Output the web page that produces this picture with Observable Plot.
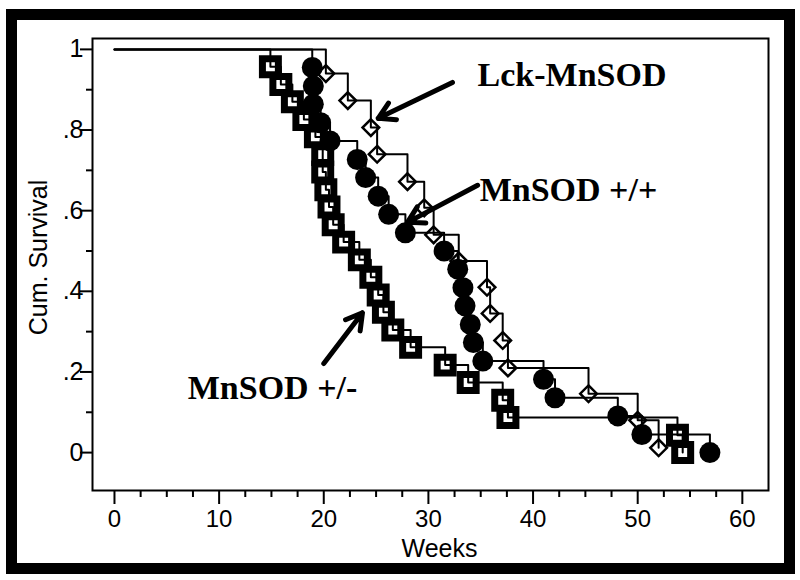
<!DOCTYPE html>
<html><head><meta charset="utf-8">
<script src="https://cdn.jsdelivr.net/npm/d3@7"></script>
<script src="https://cdn.jsdelivr.net/npm/@observablehq/plot@0.6"></script>
<style>
body{margin:0;background:#fff;}
#wrap{position:relative;width:800px;height:580px;overflow:hidden;background:#fff;}
#wrap svg{position:absolute;left:0;top:0;}
#border{position:absolute;left:6px;top:9px;width:789px;height:565px;box-sizing:border-box;border:11px solid #000;pointer-events:none;}
</style></head><body><div id="wrap"><div id="border"></div></div>
<script>
// MnSOD +/- (squares)
const hetWeeks = [14.9,15.9,17.0,18.1,19.2,19.9,19.9,20.2,20.5,20.9,21.9,23.4,24.5,25.2,25.7,26.6,28.3,31.6,33.8,37.1,37.6,53.8,54.3];
const hetSurv  = [.957,.913,.870,.826,.783,.739,.696,.652,.609,.565,.522,.478,.435,.391,.348,.304,.261,.217,.174,.130,.087,.043,0];
// MnSOD +/+ (filled circles)
const wtWeeks = [18.9,19.0,19.0,19.7,20.6,23.2,24.0,25.2,26.2,27.8,31.5,32.8,33.3,33.5,34.0,34.3,35.2,41.0,42.1,48.1,50.4,56.9];
const wtSurv  = [.955,.909,.864,.818,.773,.727,.682,.636,.591,.545,.500,.455,.409,.364,.318,.273,.227,.182,.136,.091,.045,0];
// Lck-MnSOD (open diamonds)
const lckWeeks = [20.2,22.3,24.5,25.1,28.0,29.6,30.5,32.9,35.6,35.9,37.1,37.6,45.3,50.0,52.0];
const lckSurv  = [.940,.873,.806,.740,.672,.607,.540,.475,.410,.345,.278,.210,.146,.080,.012];

const startWeek = 0, startSurv = 1;

// annotations
const labelNames = ["Lck-MnSOD", "MnSOD +/+", "MnSOD +/-"];
const labelX = [34.7, 34.9, 7.0];
const labelY = [.935, .650, .160];
const arrowX1 = [32.3, 34.7, 20.0];
const arrowY1 = [.918, .663, .221];
const arrowX2 = [25.2, 28.0, 23.7];
const arrowY2 = [.829, .571, .347];

const xTicks = [0, 10, 20, 30, 40, 50, 60];
const xMinorTicks = [2.5, 5, 7.5, 12.5, 15, 17.5, 22.5, 25, 27.5, 32.5, 35, 37.5, 42.5, 45, 47.5, 52.5, 55, 57.5];
const yTicks = [0, .2, .4, .6, .8, 1];
const yMinorTicks = [.1, .3, .5, .7, .9];

const toPts = (w, s) => [{x: startWeek, y: startSurv}, ...w.map((t, i) => ({x: t, y: s[i]}))];
const het = toPts(hetWeeks, hetSurv);
const wt = toPts(wtWeeks, wtSurv);
const lck = toPts(lckWeeks, lckSurv);
const hetPts = het.slice(1), wtPts = wt.slice(1), lckPts = lck.slice(1);
const labels = labelNames.map((t, i) => ({t, x: labelX[i], y: labelY[i]}));
const arrows = arrowX1.map((x1, i) => ({x1, y1: arrowY1[i], x2: arrowX2[i], y2: arrowY2[i]}));

const sans = "'Liberation Sans', Arial, sans-serif";
const yFmt = d => d === 0 ? "0" : d === 1 ? "1" : String(d).replace(/^0/, "");

const chart = Plot.plot({
  width: 800, height: 580,
  marginLeft: 92, marginRight: 32, marginTop: 38, marginBottom: 90,
  x: {domain: [-2.1, 62.5]},
  y: {domain: [-0.094, 1.027]},
  style: {fontFamily: sans, background: "transparent"},
  marks: [
    Plot.frame({stroke: "black", strokeWidth: 2}),
    Plot.axisX(xTicks, {tickSize: 14, tickPadding: 5, fontSize: 24, strokeWidth: 2, label: null, fontFamily: sans}),
    Plot.axisX(xMinorTicks, {tickSize: 7, tickFormat: () => "", strokeWidth: 2, label: null}),
    Plot.axisY(yTicks, {tickSize: 12, tickPadding: -3, fontSize: 25, strokeWidth: 2, tickFormat: yFmt, label: null, fontFamily: sans}),
    Plot.axisY(yMinorTicks, {tickSize: 6, tickFormat: () => "", strokeWidth: 2, label: null}),
    Plot.text(["Weeks"], {frameAnchor: "bottom", lineAnchor: "middle", dx: 9, dy: 58, fontSize: 25, fontFamily: sans, fill: "black"}),
    Plot.text(["Cum. Survival"], {frameAnchor: "left", textAnchor: "middle", lineAnchor: "middle", rotate: -90, dx: -54, dy: -7, fontSize: 25, fontFamily: sans, fill: "black"}),
    // markers
    Plot.dot(hetPts, {x: "x", y: "y", symbol: "square", r: 9, fill: "white", stroke: "black", strokeWidth: 7}),
    Plot.dot(lckPts, {x: "x", y: "y", symbol: d3.symbolDiamond2 || "diamond", r: 7.5, fill: "white", stroke: "black", strokeWidth: 2.5}),
    Plot.dot(wtPts, {x: "x", y: "y", symbol: "circle", r: 10.5, fill: "black", stroke: "none"}),
    // step curves
    Plot.line(het, {x: "x", y: "y", curve: "step-after", stroke: "black", strokeWidth: 2}),
    Plot.line(lck, {x: "x", y: "y", curve: "step-after", stroke: "black", strokeWidth: 2}),
    Plot.line(wt, {x: "x", y: "y", curve: "step-after", stroke: "black", strokeWidth: 2}),
    // annotations
    Plot.arrow(arrows, {x1: "x1", y1: "y1", x2: "x2", y2: "y2", stroke: "black", strokeWidth: 5, headLength: 5.5, headAngle: 60}),
    Plot.text(labels, {x: "x", y: "y", text: "t", textAnchor: "start", fontSize: 34, fontWeight: "bold", fontFamily: "'Liberation Serif', 'Times New Roman', serif", fill: "black"})
  ]
});
document.getElementById("wrap").insertBefore(chart, document.getElementById("border"));
</script>
</body></html>
